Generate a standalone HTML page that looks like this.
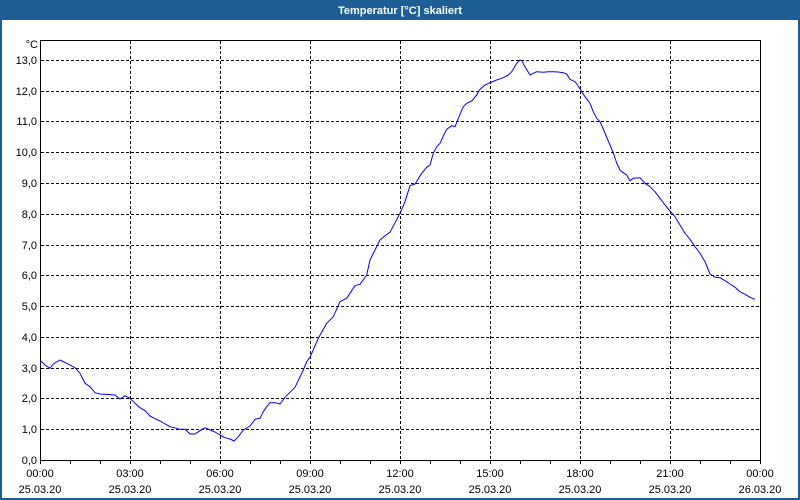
<!DOCTYPE html>
<html><head><meta charset="utf-8"><style>
html,body{margin:0;padding:0;background:#fff;}
body{width:800px;height:500px;overflow:hidden;}
svg{display:block;}
text{font-family:"Liberation Sans",Arial,sans-serif;font-size:11px;fill:#000;}
</style></head><body>
<svg width="800" height="500" viewBox="0 0 800 500" xmlns="http://www.w3.org/2000/svg">
<rect x="0" y="0" width="800" height="500" fill="#1c5e95"/>
<rect x="2" y="20" width="796" height="478" fill="#fff"/>
<text x="400" y="14" text-anchor="middle" style="font-weight:bold;fill:#fff;font-size:11px">Temperatur [°C] skaliert</text>
<g stroke="#000" stroke-width="1" stroke-dasharray="3,2" shape-rendering="crispEdges" fill="none">
<line x1="41" y1="60.5" x2="760" y2="60.5"/>
<line x1="41" y1="91.5" x2="760" y2="91.5"/>
<line x1="41" y1="121.5" x2="760" y2="121.5"/>
<line x1="41" y1="152.5" x2="760" y2="152.5"/>
<line x1="41" y1="183.5" x2="760" y2="183.5"/>
<line x1="41" y1="214.5" x2="760" y2="214.5"/>
<line x1="41" y1="245.5" x2="760" y2="245.5"/>
<line x1="41" y1="275.5" x2="760" y2="275.5"/>
<line x1="41" y1="306.5" x2="760" y2="306.5"/>
<line x1="41" y1="337.5" x2="760" y2="337.5"/>
<line x1="41" y1="368.5" x2="760" y2="368.5"/>
<line x1="41" y1="398.5" x2="760" y2="398.5"/>
<line x1="41" y1="429.5" x2="760" y2="429.5"/>
<line x1="130.5" y1="41" x2="130.5" y2="460"/>
<line x1="220.5" y1="41" x2="220.5" y2="460"/>
<line x1="310.5" y1="41" x2="310.5" y2="460"/>
<line x1="400.5" y1="41" x2="400.5" y2="460"/>
<line x1="490.5" y1="41" x2="490.5" y2="460"/>
<line x1="580.5" y1="41" x2="580.5" y2="460"/>
<line x1="670.5" y1="41" x2="670.5" y2="460"/>
</g>
<g stroke="#000" stroke-width="1" shape-rendering="crispEdges" fill="none">
<rect x="40.5" y="40.5" width="720" height="420"/>
<path d="M70.5 461v3M100.5 461v3M130.5 461v3M160.5 461v3M190.5 461v3M220.5 461v3M250.5 461v3M280.5 461v3M310.5 461v3M340.5 461v3M370.5 461v3M400.5 461v3M430.5 461v3M460.5 461v3M490.5 461v3M520.5 461v3M550.5 461v3M580.5 461v3M610.5 461v3M640.5 461v3M670.5 461v3M700.5 461v3M730.5 461v3M40.5 461v3M760.5 461v3"/>
</g>
<polyline fill="none" stroke="#0000ff" stroke-width="1" stroke-linejoin="round" points="41,361 45,365 50,368.3 53.3,364 60,360 66.7,363.3 75,367.7 80,373.3 85,383.3 90,386.7 95,392.7 100,394 115,395 120,399 125,395.7 130,398.3 135,403.3 140,407.7 145,410.7 150,416 155,418.7 160,421 170,426.7 176.7,428.3 180,429.3 185,429.3 190,434 195,434 200,430.7 205,427.7 210,430 215,432 220,435 225,437.7 230,439 234,441 238.3,436.7 243.3,430 250,426 255,419.3 260,418.3 263.3,411.7 266.7,406.7 270,402.7 275,402.7 280,404 285,397.3 295,387.3 303.3,370 306.7,361.7 310,357.3 318.3,338.3 326.7,323.3 333.3,316.7 340,301.7 346.7,298.3 355,285.7 360,284.3 366.7,275 370,260 380,240 385,235.7 390,232.3 400,213.3 405,201.7 410,185.7 415,184 421.7,173.3 426.7,167.3 430,165 433.3,153.3 436.7,146.7 440,143.3 443.3,136 446.7,129.3 451.7,125.7 455,126.7 458.3,118.3 463.3,106.7 466.7,103.3 471.7,101 476.7,95 480,89.3 485,85 490,82.7 496.7,80 503.3,77.7 508.3,75 511.7,71.7 516.7,63.3 520,60 521.7,60.7 525,66.7 530,75 533.3,73.3 536.7,71.7 543.3,72.3 548.3,71.7 553.3,71.7 558.3,72 563.3,72.7 566.7,74 570,79.3 575,81.7 578.3,86 581.7,91.7 585,96.7 590,103.3 593.3,111.7 596.7,118.3 600,121.7 603.3,129 607,138 610,145 613.3,153 616.7,163 620,170 623.3,172.7 626.7,175 630,180.7 633.3,178.3 640,177.7 645,183.3 650,186.7 655,191.7 660,198.3 665,205 670,211 675,216.7 680,225 685,233.3 690,239.3 695,246.7 700,253.3 705,261.7 710,274 715,277.3 720,277.7 725,280.7 730,284 735,287.3 740,291.7 745,294.3 750,297.3 755,299.3"/>
<g text-anchor="end">
<text x="38" y="48">°C</text>
<text x="37" y="64">13,0</text>
<text x="37" y="95">12,0</text>
<text x="37" y="125">11,0</text>
<text x="37" y="156">10,0</text>
<text x="37" y="187">9,0</text>
<text x="37" y="218">8,0</text>
<text x="37" y="249">7,0</text>
<text x="37" y="279">6,0</text>
<text x="37" y="310">5,0</text>
<text x="37" y="341">4,0</text>
<text x="37" y="372">3,0</text>
<text x="37" y="402">2,0</text>
<text x="37" y="433">1,0</text>
<text x="37" y="464">0,0</text>
</g>
<g text-anchor="middle">
<text x="40" y="477">00:00</text><text x="40" y="493">25.03.20</text>
<text x="130" y="477">03:00</text><text x="130" y="493">25.03.20</text>
<text x="220" y="477">06:00</text><text x="220" y="493">25.03.20</text>
<text x="310" y="477">09:00</text><text x="310" y="493">25.03.20</text>
<text x="400" y="477">12:00</text><text x="400" y="493">25.03.20</text>
<text x="490" y="477">15:00</text><text x="490" y="493">25.03.20</text>
<text x="580" y="477">18:00</text><text x="580" y="493">25.03.20</text>
<text x="670" y="477">21:00</text><text x="670" y="493">25.03.20</text>
<text x="760" y="477">00:00</text><text x="760" y="493">26.03.20</text>
</g>
</svg>
</body></html>
